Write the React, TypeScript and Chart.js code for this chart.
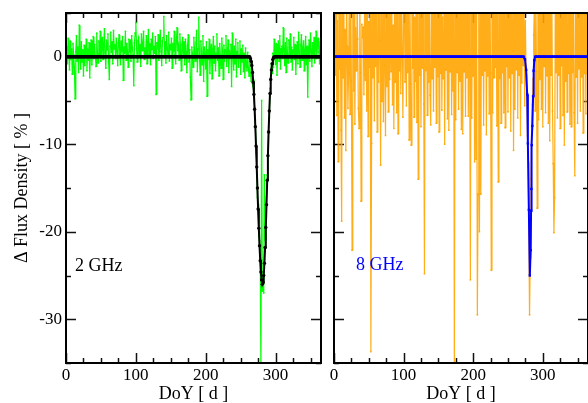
import React, { useEffect, useRef } from "react";
import { Chart, registerables } from "chart.js";
Chart.register(...registerables);

// ---------- DATA ----------
// 2 GHz daily flux-density changes (%), day 1..365
const green2GHz = [
  1.2, -0.8, 2.1, 0.4, -1.5, 1.8, -0.3, 0.9, -2.0, 1.5,
  0.2, -1.2, -4.8, 0.6, 2.4, -0.5, 1.1, -1.8, 3.6, 0.3,
  -1.4, 1.7, -0.6, 0.8, -2.2, 1.3, -1.0, 0.5, 2.0, -1.6,
  0.9, -0.4, 1.6, -2.4, 0.7, 1.9, -0.9, 0.3, 2.3, -0.2,
  1.4, 0.1, -1.1, 2.7, 0.6, -0.7, 1.8, 0.2, 2.9, -0.5,
  1.0, 2.2, -0.3, 1.5, 3.2, 0.4, -1.3, 1.9, 0.8, 2.6,
  -0.6, -2.6, 1.2, 2.8, 0.5, 1.7, -0.8, 3.0, 0.9, 1.4,
  -0.2, 2.1, 0.7, -1.0, 1.6, 2.5, 0.3, -0.9, 1.8, 0.6,
  2.3, -2.7, 1.1, 0.4, 2.9, -0.4, 1.5, 0.8, -1.2, 2.0,
  0.6, 1.9, -0.5, 2.4, 1.0, 0.2, -3.3, 1.6, 2.7, 3.9,
  0.9, -0.6, 1.8, 2.2, 0.3, 1.4, -1.1, 2.6, 0.7, 1.3,
  2.9, -0.3, 1.0, 0.5, 2.4, -0.8, 1.7, 3.1, 0.2, 1.5,
  -0.9, 2.0, 0.8, 2.7, -0.2, 1.2, 0.4, 2.3, -4.3, 1.6,
  0.9, 2.5, -0.4, 1.1, 3.0, 0.6, -1.0, 1.8, 2.2, 4.6,
  0.3, 1.7, -0.7, 2.4, 1.0, 0.1, 2.8, -0.5, 1.4, 0.8,
  2.1, -1.3, 1.5, 0.6, 2.9, 0.2, -0.8, 1.9, 3.3, 0.7,
  1.2, -0.4, 2.6, 0.9, -1.6, 1.4, 2.2, 0.3, 1.7, -0.9,
  2.0, 0.5, -1.8, 1.3, 2.5, -0.6, 0.8, -2.3, -4.9, 1.1,
  0.4, -1.2, 2.2, 0.7, -0.5, 1.6, 3.0, -1.7, 0.9, 4.5,
  0.2, -2.1, 1.8, 0.6, -0.9, 2.4, -2.8, 1.1, 0.3, -1.4,
  1.7, -4.5, 0.8, -0.3, 2.0, -1.9, 0.5, 1.4, -2.5, 0.9,
  2.3, -0.7, 1.2, -1.6, 0.4, 2.6, -0.4, 1.0, -2.2, 1.5,
  0.1, -1.3, 2.1, 0.6, -2.6, 1.3, -0.5, 0.8, 2.4, -1.1,
  0.3, 1.9, -1.8, 0.7, -0.2, 1.4, -3.4, 2.7, 0.4, -1.5,
  1.2, -0.8, 2.0, -2.3, 0.6, 1.6, -1.2, 0.2, 1.8, -2.0,
  0.9, -0.6, 1.3, -1.7, 0.4, -2.4, 1.0, -0.9, -1.6, 0.5,
  -1.3, -2.2, -0.4, -1.9, -2.8, -1.2, -3.1, -2.6, -4.6, -5.8,
  -7.2, -11.0, -12.0, -16.1, -16.8, -20.5, -21.0, -22.5, -36.0, -5.0,
  -26.8, -24.8, -27.0, -13.5, -21.0, -18.5, -16.0, -13.5, -12.0, -8.0,
  -7.0, -3.6, -3.0, -0.8, -1.9, 0.4, -1.2, 2.0, 0.6, -0.9,
  1.5, -2.1, 0.3, 1.8, -0.5, 2.4, -1.4, 0.9, 1.2, -0.2,
  3.3, 0.7, -1.0, 1.6, -1.8, 2.1, 0.4, -0.7, 1.9, 0.2,
  2.6, -0.6, 1.1, -1.5, 0.8, 2.2, -0.3, 1.4, -2.0, 0.6,
  1.7, -0.8, 2.8, 0.5, -1.2, 1.3, 2.5, -0.4, 0.9, 1.8,
  -1.6, 0.7, 2.3, -0.9, 1.2, -4.6, 0.4, 1.9, -0.5, 2.7,
  0.8, -1.1, 1.6, 0.3, 2.2, -0.7, 1.0, 2.9, -0.2, 1.4,
  2.1, 0.5, -0.8, 1.7, 0.9,
];

// 8 GHz daily flux-density changes (%), day 1..365
const orange8GHz = [
  6.8, -2.1, 8.9, -6.7, 4.1, -12.0, 7.6, -1.4, 5.3, -8.4,
  -18.8, 8.6, -2.4, 9.2, -7.0, 3.1, -10.7, 7.3, 1.2, -5.9,
  -1.9, 8.2, -6.6, 9.1, -2.8, -22.1, 6.4, -3.9, 8.0, -7.7,
  3.3, -1.6, 7.6, 2.0, -5.9, -8.2, 8.5, -1.8, -16.5, 3.7,
  2.2, 3.4, -4.3, 6.1, -2.7, 9.6, -6.2, 7.9, -9.1, 4.0,
  -1.2, 8.8, -33.7, -9.9, 7.3, -2.4, 6.0, -7.3, 8.0, -1.1,
  5.5, -8.6, 8.7, -2.9, 6.4, 1.8, -12.4, 7.1, -5.1, 9.5,
  -7.4, 7.9, -1.0, -9.0, 6.6, -3.4, 8.2, -6.3, 5.6, -2.6,
  9.3, -1.7, 7.0, -5.5, 3.6, -8.2, 6.3, -2.9, 7.4, -6.4,
  6.8, -8.8, 8.3, -1.6, 7.1, -4.2, 9.1, 0.4, -6.9, 5.1,
  8.9, -2.9, 9.8, -5.6, 7.0, -1.8, 6.6, -9.5, 8.4, -3.1,
  -10.1, 7.3, -1.3, 8.7, -6.9, 4.5, -2.8, 7.8, -7.5, 6.3,
  -14.0, 8.6, -2.1, 6.7, -8.0, 8.7, -1.3, 7.4, -5.4, -24.8,
  7.0, -1.6, 8.5, -6.7, 9.0, -2.9, 6.7, -4.4, -7.8, 7.2,
  -2.5, 8.1, -6.2, 7.2, -1.2, 8.1, -7.6, 6.3, -2.3, 8.8,
  -8.6, 9.4, -1.9, 7.3, -6.1, 4.5, -2.5, 8.3, -10.0, 6.5,
  -1.5, 8.9, -7.1, 7.4, -8.4, 8.7, -1.7, 6.0, -6.6, 7.9,
  -3.9, 8.0, -38.0, 7.2, -7.2, 8.1, -1.8, 6.0, -6.0, 8.9,
  -2.8, 7.6, -8.3, 8.6, -8.8, 7.0, -1.7, 6.5, -6.8, 9.2,
  -2.4, 7.8, -6.8, 6.4, -1.0, -25.5, 8.0, -7.0, 7.8, -2.2,
  7.8, -12.0, 6.2, -11.7, 7.4, -29.5, -15.7, 6.5, -20.0, 6.6,
  -15.7, 8.0, -2.1, 8.1, -7.8, 7.5, -1.6, 7.2, -8.9, 6.6,
  -2.2, 8.0, -6.5, 9.5, -1.9, -24.4, 7.7, -6.4, 6.8, -2.4,
  7.5, -1.2, 8.2, -7.9, 6.8, -14.3, 7.0, -2.5, 8.2, -7.6,
  7.6, -1.8, 6.3, -6.4, 8.2, -8.1, 8.7, -1.1, 6.4, -6.3,
  8.3, -2.4, 7.0, -8.5, 6.3, -1.9, 9.1, -10.7, 6.9, -6.0,
  8.4, -1.5, 6.5, -7.0, 8.0, -2.1, 7.7, -9.0, 5.9, -3.0,
  7.3, -1.0, 5.6, -5.6, 4.1, -2.0, -4.0, -9.0, -12.0, -20.0,
  -29.5, -23.0, -14.0, -8.0, -5.5, -2.5, 2.5, 6.0, -6.2, 7.7,
  -1.7, -17.3, 7.9, -7.2, 8.6, -2.6, 6.4, -6.0, 8.4, -8.0,
  7.7, -1.1, 8.8, -6.4, 6.2, -2.2, 9.0, -7.6, 7.3, -9.6,
  6.2, -2.1, 7.5, -6.2, -12.2, -20.1, -16.1, 6.5, -1.8, 8.0,
  -7.0, 7.1, -2.1, 8.6, -8.2, 6.5, -1.0, 7.4, -6.7, 6.9,
  -10.1, 8.0, -2.8, 7.1, -6.3, 8.3, -1.9, 6.4, -7.7, 7.8,
  -8.0, 6.3, -1.8, 7.5, -6.4, -13.6, 6.7, -2.3, 8.9, -7.6,
  8.8, -1.4, 6.6, -6.2, 7.2, -2.3, 7.0, -8.7, 8.6, -1.9,
  6.3, -6.5, 7.9, -2.0, 6.6,
];

// 2 GHz model (black): zero baseline, dip days and values
const blackDipDays = [
  264, 265, 266, 267, 268, 269, 270, 271, 272, 273, 274, 275, 276, 277, 278, 279, 280,
  281, 282, 283, 284, 285, 286, 287, 288, 289, 290, 291, 292, 293, 294, 295, 296, 297,
];
const blackDipVals = [
  -0.2, -0.5, -1.0, -1.8, -2.9, -4.3, -6.0, -8.0, -10.2, -12.6, -15.0, -17.4, -19.6, -21.6, -23.3, -24.6, -25.5,
  -26.0, -25.8, -25.0, -23.6, -21.8, -19.5, -16.9, -14.1, -11.3, -8.6, -6.2, -4.2, -2.6, -1.5, -0.8, -0.3, -0.1,
];

// 8 GHz model (blue): zero baseline, dip points
const blueDipDays = [274.5, 276.1, 277.6, 278.6, 280.0, 281.4, 282.6, 283.2, 283.6, 284.2, 285.0, 286.1, 286.9, 287.8];
const blueDipVals = [-0.3, -1.5, -4.3, -9.9, -17.5, -25.0, -22.1, -17.6, -15.1, -10.1, -7.9, -4.5, -1.6, -0.4];

const xTickLabels = [0, 100, 200, 300];
const yTickLabels = [0, -10, -20, -30];
const X_MIN = 0, X_MAX = 365, Y_MIN = -35, Y_MAX = 5;

// ---------- helpers ----------
const dailyPoints = (vals: number[]) => vals.map((v, i) => ({ x: i + 1, y: v }));

function blackModel() {
  const pts: { x: number; y: number }[] = [];
  for (let d = 1; d <= 365; d++) {
    const k = blackDipDays.indexOf(d);
    pts.push({ x: d, y: k >= 0 ? blackDipVals[k] : 0 });
  }
  return pts;
}

function blueModel() {
  const pts: { x: number; y: number }[] = [];
  for (let d = 1; d <= 365; d++) {
    if (d >= 274 && d <= 288) continue;
    pts.push({ x: d, y: 0 });
  }
  blueDipDays.forEach((d, i) => pts.push({ x: d, y: blueDipVals[i] }));
  pts.sort((a, b) => a.x - b.x);
  return pts;
}

const SERIF = '"Liberation Serif", "DejaVu Serif", serif';

type PanelOpts = {
  showYLabels: boolean;
  label: string;
  labelColor: string;
  labelDx: number;
  labelY: number;
};

function framePlugin(o: PanelOpts) {
  const drawTicks = (chart: any) => {
    const { ctx, chartArea: a, scales } = chart;
    const xs = scales.x, ys = scales.y;
    ctx.save();
    ctx.strokeStyle = "#111";
    ctx.lineWidth = 1.5;
    ctx.beginPath();
    for (let v = X_MIN; v <= X_MAX; v += 25) {
      const px = Math.round(xs.getPixelForValue(v)) + 0.5;
      const len = v % 100 === 0 ? 10 : 5;
      ctx.moveTo(px, a.bottom); ctx.lineTo(px, a.bottom - len);
      ctx.moveTo(px, a.top); ctx.lineTo(px, a.top + len);
    }
    for (let v = Y_MIN; v <= Y_MAX; v += 5) {
      const py = Math.round(ys.getPixelForValue(v)) + 0.5;
      const len = v % 10 === 0 ? 10 : 5;
      ctx.moveTo(a.left, py); ctx.lineTo(a.left + len, py);
      ctx.moveTo(a.right, py); ctx.lineTo(a.right - len, py);
    }
    ctx.stroke();
    ctx.restore();
  };
  return {
    id: "frame",
    beforeDatasetsDraw(chart: any) {
      drawTicks(chart);
    },
    afterDatasetsDraw(chart: any) {
      const { ctx, chartArea: a } = chart;
      ctx.save();
      ctx.strokeStyle = "#000";
      ctx.lineWidth = 2;
      ctx.strokeRect(a.left, a.top, a.right - a.left, a.bottom - a.top);
      ctx.restore();
    },
    afterDraw(chart: any) {
      const { ctx, chartArea: a, scales } = chart;
      const xs = scales.x, ys = scales.y;
      ctx.save();
      ctx.fillStyle = "#000";
      ctx.font = `17px ${SERIF}`;
      ctx.textAlign = "center";
      ctx.textBaseline = "middle";
      xTickLabels.forEach((v) => ctx.fillText(String(v), xs.getPixelForValue(v), a.bottom + 13));
      if (o.showYLabels) {
        ctx.textAlign = "right";
        yTickLabels.forEach((v) => ctx.fillText(String(v), a.left - 4, ys.getPixelForValue(v)));
        ctx.save();
        ctx.font = `18px ${SERIF}`;
        ctx.textAlign = "center";
        ctx.translate(22, (a.top + a.bottom) / 2);
        ctx.rotate(-Math.PI / 2);
        ctx.fillText("\u0394 Flux Density [ % ]", 0, 0);
        ctx.restore();
      }
      ctx.font = `18px ${SERIF}`;
      ctx.textAlign = "center";
      ctx.fillText("DoY [ d ]", (a.left + a.right) / 2, a.bottom + 31);
      ctx.textAlign = "left";
      ctx.fillStyle = o.labelColor;
      ctx.fillText(o.label, a.left + o.labelDx, o.labelY);
      ctx.restore();
    },
  };
}

function makeConfig(data: any[], model: any[], dataColor: string, dataWidth: number, modelColor: string, modelStyle: string, o: PanelOpts, padding: any) {
  return {
    type: "line" as const,
    data: {
      datasets: [
        {
          data: model,
          borderColor: modelColor,
          backgroundColor: modelColor,
          borderWidth: 2,
          pointRadius: 1.7,
          pointStyle: modelStyle,
          pointBorderWidth: 0,
          pointBackgroundColor: modelColor,
          tension: 0,
          order: 0,
        },
        {
          data,
          borderColor: dataColor,
          backgroundColor: dataColor,
          borderWidth: dataWidth,
          pointRadius: 1.1,
          pointStyle: "rect",
          pointBorderWidth: 0,
          pointBackgroundColor: dataColor,
          tension: 0,
          order: 1,
        },
      ],
    },
    options: {
      responsive: false,
      animation: false as const,
      devicePixelRatio: 1,
      layout: { padding },
      plugins: { legend: { display: false }, tooltip: { enabled: false } },
      events: [],
      scales: {
        x: { type: "linear" as const, min: X_MIN, max: X_MAX, display: false },
        y: { type: "linear" as const, min: Y_MIN, max: Y_MAX, display: false },
      },
    },
    plugins: [framePlugin(o)],
  };
}

export default function App() {
  const leftRef = useRef<HTMLCanvasElement>(null);
  const rightRef = useRef<HTMLCanvasElement>(null);

  useEffect(() => {
    const left = new Chart(
      leftRef.current!,
      makeConfig(
        dailyPoints(green2GHz),
        blackModel(),
        "#00ff00",
        1.2,
        "#000000",
        "circle",
        { showYLabels: true, label: "2 GHz", labelColor: "#000", labelDx: 9, labelY: 266 },
        { left: 66, right: 9, top: 13, bottom: 40 }
      ) as any
    );
    const right = new Chart(
      rightRef.current!,
      makeConfig(
        dailyPoints(orange8GHz),
        blueModel(),
        "rgba(255,165,0,0.9)",
        1.2,
        "#0000ff",
        "rect",
        { showYLabels: false, label: "8 GHz", labelColor: "#0000ff", labelDx: 22, labelY: 265 },
        { left: 4, right: 3, top: 13, bottom: 40 }
      ) as any
    );
    return () => {
      left.destroy();
      right.destroy();
    };
  }, []);

  return (
    <div style={{ position: "absolute", left: 0, top: 0, width: 588, height: 403, overflow: "hidden", background: "#fff" }}>
      <canvas ref={leftRef} width={330} height={403} style={{ position: "absolute", left: 0, top: 0 }} />
      <canvas ref={rightRef} width={262} height={403} style={{ position: "absolute", left: 330, top: 0 }} />
    </div>
  );
}
